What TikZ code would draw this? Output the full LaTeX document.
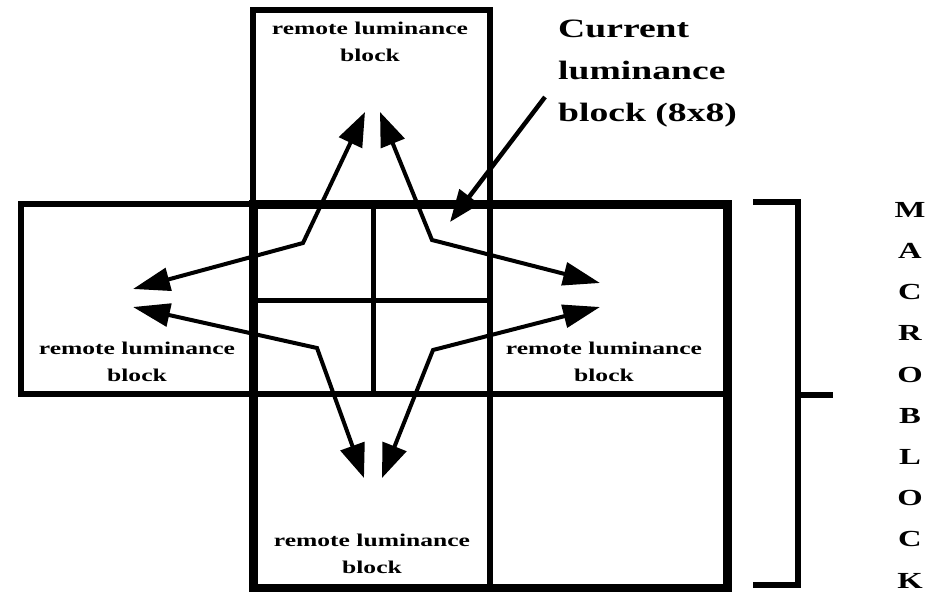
\documentclass[tikz,border=0pt]{standalone}
\usepackage{fontspec}
\newfontfamily\lblfont[FakeStretch=1.42]{Liberation Serif}
\usetikzlibrary{arrows.meta}
\tikzset{
  tipH/.tip={Triangle[length=37pt,width=23pt]},
  tipV/.tip={Triangle[length=34pt,width=25pt]},
}
\begin{document}
\begin{tikzpicture}[x=1pt,y=-1pt,
  thickbox/.style={line width=9pt},
  midline/.style={line width=6.5pt},
  thinline/.style={line width=5pt},
  link/.style={line width=4pt, line join=miter},
  pointer/.style={line width=4.5pt},
  lbl/.style={font=\lblfont\bfseries\fontsize{18}{27}\selectfont, align=center, inner sep=0pt},
  biglbl/.style={font=\lblfont\bfseries\fontsize{26.5}{42}\selectfont, align=left, inner sep=0pt},
  mblbl/.style={font=\lblfont\bfseries\fontsize{23}{41.2}\selectfont, align=center, inner sep=0pt},
]
\useasboundingbox (0,0) rectangle (938,592);
\fill[white] (0,0) rectangle (938,592);

% grid coordinates
\coordinate (mbTL) at (253,204);
\coordinate (mbBR) at (727,588);
\coordinate (topTL) at (253,10);
\coordinate (topBR) at (490,204);
\coordinate (leftTL) at (21,204);
\coordinate (leftBR) at (253,394);
\coordinate (hmidL) at (21,394);
\coordinate (hmidR) at (727,394);
\coordinate (vmidT) at (490,10);
\coordinate (vmidB) at (490,588);
\coordinate (ivT) at (373,204);
\coordinate (ivB) at (373,394);
\coordinate (ihL) at (253,300);
\coordinate (ihR) at (490,300);

% boxes
\draw[midline] (topTL) rectangle (topBR);
\draw[midline] (leftTL) rectangle (leftBR);
\draw[midline] (hmidL) -- (hmidR);
\draw[midline] (vmidT) -- (vmidB);
\draw[thinline] (ivT) -- (ivB);
\draw[thinline] (ihL) -- (ihR);
\draw[thickbox] (mbTL) rectangle (mbBR);

% labels
\node[lbl] (ltop) at (370,42) {remote luminance\\block};
\node[lbl] (lleft) at (137,362) {remote luminance\\block};
\node[lbl] (lright) at (604,362) {remote luminance\\block};
\node[lbl] (lbottom) at (372,554) {remote luminance\\block};
\node[biglbl, anchor=north west] (cur) at (558,20) {Current\\luminance\\block (8x8)};
\node[mblbl, anchor=north] (mb) at (910,202) {M\\A\\C\\R\\O\\B\\L\\O\\C\\K};

% arrow coordinates
\coordinate (a1) at (133,289);
\coordinate (a2) at (303,243);
\coordinate (a3) at (365,112);
\coordinate (b1) at (380,112);
\coordinate (b2) at (432,240);
\coordinate (b3) at (600,283);
\coordinate (c1) at (133,307);
\coordinate (c2) at (317,348);
\coordinate (c3) at (364,478);
\coordinate (d1) at (600,307);
\coordinate (d2) at (433,350);
\coordinate (d3) at (382,478);
\coordinate (p1) at (545,97);
\coordinate (p2) at (450,222);

\draw[link, tipH-tipV] (a1) -- (a2) -- (a3);
\draw[link, tipV-tipH] (b1) -- (b2) -- (b3);
\draw[link, tipH-tipV] (c1) -- (c2) -- (c3);
\draw[link, tipH-tipV] (d1) -- (d2) -- (d3);
\draw[pointer, -{Triangle[length=32pt,width=24pt]}] (p1) -- (p2);

% bracket
\coordinate (brT) at (753,202);
\coordinate (brTR) at (798,202);
\coordinate (brBR) at (798,585);
\coordinate (brB) at (753,585);
\coordinate (brM) at (798,395);
\coordinate (brE) at (833,395);
\draw[midline] (brT) -- (brTR) -- (brBR) -- (brB);
\draw[midline] (brM) -- (brE);
\end{tikzpicture}
\end{document}
